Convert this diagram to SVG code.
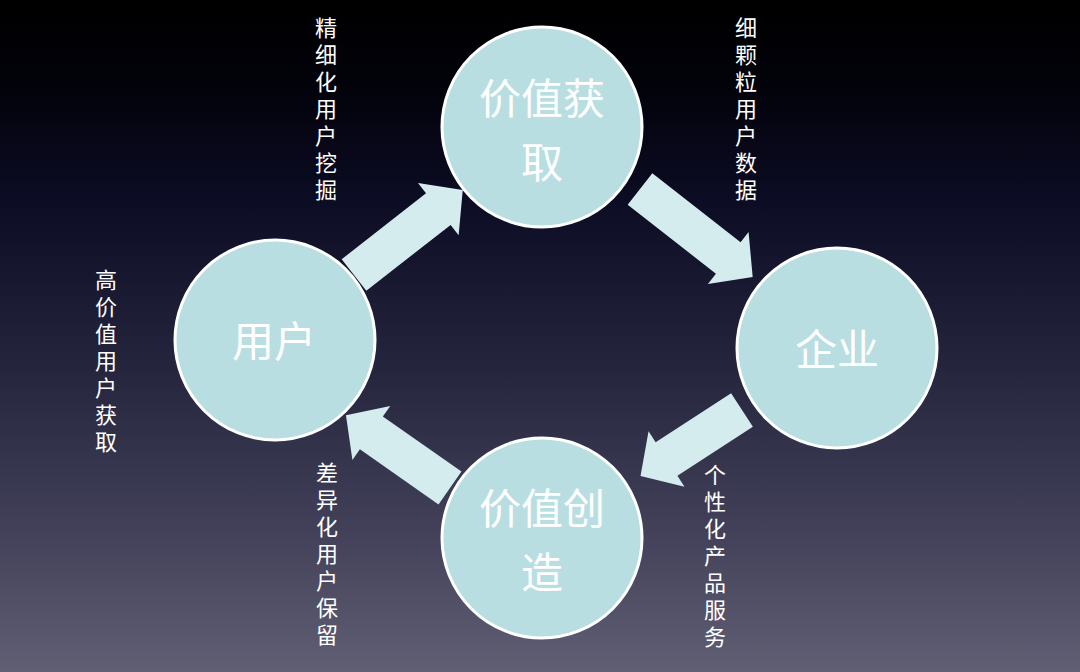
<svg xmlns="http://www.w3.org/2000/svg" width="1080" height="672" viewBox="0 0 1080 672">
  <defs>
    <linearGradient id="bg" x1="0" y1="0" x2="0" y2="1">
      <stop offset="0" stop-color="#000000"/>
      <stop offset="0.12" stop-color="#02020a"/>
      <stop offset="0.3" stop-color="#0c0c24"/>
      <stop offset="0.55" stop-color="#25253e"/>
      <stop offset="0.8" stop-color="#43425a"/>
      <stop offset="1" stop-color="#615f74"/>
    </linearGradient>
  </defs>
  <style>
    .node circle { fill: #b8dee2; stroke: #ffffff; stroke-width: 3; }
    .ntext { fill: #ffffff; font-family: "Noto Sans CJK SC", "Noto Sans", sans-serif; font-size: 42px; text-anchor: middle; }
    .arrow { fill: #d5ecef; }
    .vlabel { fill: #ffffff; font-family: "Noto Sans CJK SC", "Noto Sans", sans-serif; font-size: 22px; writing-mode: vertical-rl; text-anchor: start; letter-spacing: 5px; }
  </style>
  <rect x="0" y="0" width="1080" height="672" fill="url(#bg)"/>

  <g id="connectors">
    <path class="arrow" transform="translate(354,275) rotate(-38)" d="M0,-20 H107 V-33 L138,0 L107,33 V20 H0 Z"/>
    <path class="arrow" transform="translate(640,189) rotate(38)" d="M0,-20 H112 V-33 L143,0 L112,33 V20 H0 Z"/>
    <path class="arrow" transform="translate(742,410) rotate(147)" d="M0,-20 H90 V-33 L121,0 L90,33 V20 H0 Z"/>
    <path class="arrow" transform="translate(450,488) rotate(215)" d="M0,-20 H96 V-33 L127,0 L96,33 V20 H0 Z"/>
  </g>

  <g id="node-user" class="node">
    <circle cx="275" cy="340" r="100"/>
    <text class="ntext" x="274" y="357">用户</text>
  </g>
  <g id="node-value-acquire" class="node">
    <circle cx="542" cy="127" r="100"/>
    <text class="ntext" x="542" y="114">价值获</text>
    <text class="ntext" x="542" y="178">取</text>
  </g>
  <g id="node-enterprise" class="node">
    <circle cx="837" cy="348" r="100"/>
    <text class="ntext" x="837" y="365">企业</text>
  </g>
  <g id="node-value-create" class="node">
    <circle cx="542" cy="538" r="100"/>
    <text class="ntext" x="542" y="524">价值创</text>
    <text class="ntext" x="542" y="588">造</text>
  </g>

  <g id="labels">
    <text class="vlabel" x="326" y="17">精细化用户挖掘</text>
    <text class="vlabel" x="746" y="17">细颗粒用户数据</text>
    <text class="vlabel" x="106" y="269">高价值用户获取</text>
    <text class="vlabel" x="327" y="462">差异化用户保留</text>
    <text class="vlabel" x="715" y="464">个性化产品服务</text>
  </g>
</svg>
